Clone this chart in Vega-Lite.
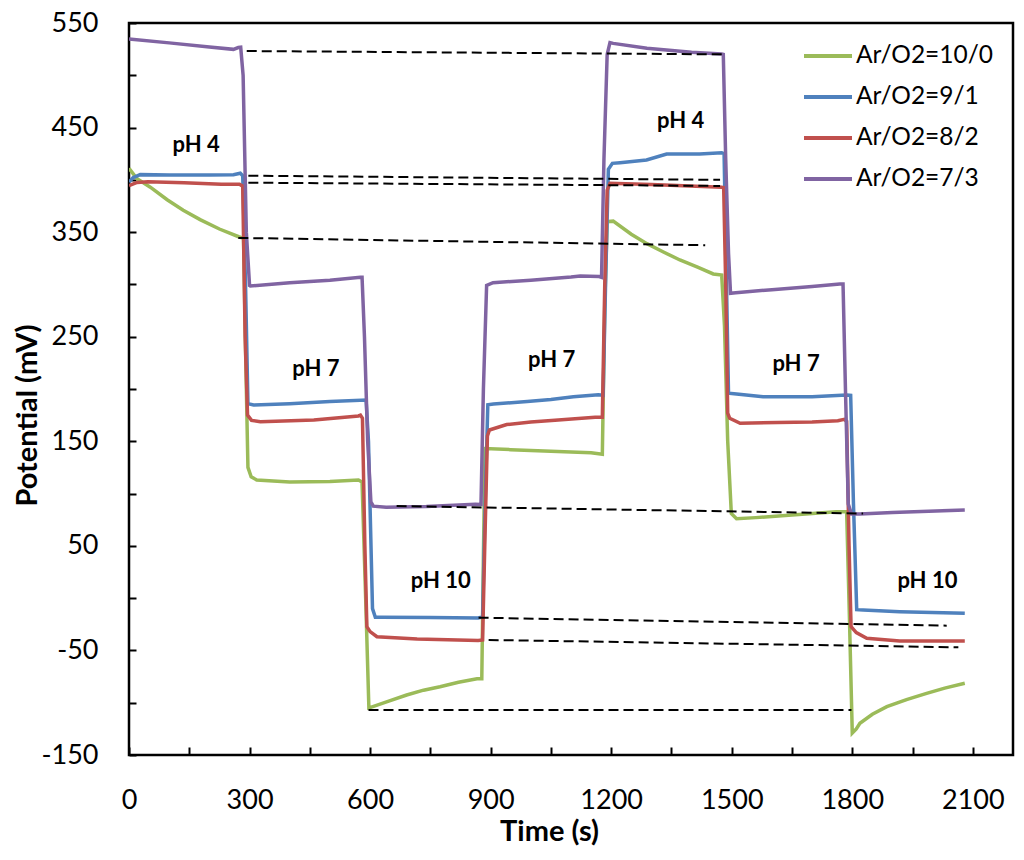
{
  "$schema": "https://vega.github.io/schema/vega-lite/v6.json",
  "width": 884,
  "height": 732,
  "autosize": {"type": "none"},
  "padding": {"left": 129, "top": 23, "right": 11, "bottom": 105},
  "background": "white",
  "config": {
    "view": {"stroke": "black", "strokeWidth": 2.5},
    "font": "Lato"
  },
  "datasets": {
    "curves": [
      {"s": "Ar/O2=10/0", "t": 0, "mV": 411}, {"s": "Ar/O2=10/0", "t": 20, "mV": 401}, {"s": "Ar/O2=10/0", "t": 53, "mV": 393},
      {"s": "Ar/O2=10/0", "t": 95, "mV": 381}, {"s": "Ar/O2=10/0", "t": 135, "mV": 371}, {"s": "Ar/O2=10/0", "t": 177, "mV": 362},
      {"s": "Ar/O2=10/0", "t": 225, "mV": 353}, {"s": "Ar/O2=10/0", "t": 273, "mV": 345.6}, {"s": "Ar/O2=10/0", "t": 285, "mV": 344},
      {"s": "Ar/O2=10/0", "t": 291, "mV": 220}, {"s": "Ar/O2=10/0", "t": 296, "mV": 125}, {"s": "Ar/O2=10/0", "t": 304, "mV": 116},
      {"s": "Ar/O2=10/0", "t": 318, "mV": 113}, {"s": "Ar/O2=10/0", "t": 400, "mV": 111}, {"s": "Ar/O2=10/0", "t": 500, "mV": 111.5},
      {"s": "Ar/O2=10/0", "t": 571, "mV": 113}, {"s": "Ar/O2=10/0", "t": 580, "mV": 111}, {"s": "Ar/O2=10/0", "t": 589, "mV": 0},
      {"s": "Ar/O2=10/0", "t": 597, "mV": -105}, {"s": "Ar/O2=10/0", "t": 605, "mV": -104}, {"s": "Ar/O2=10/0", "t": 650, "mV": -98},
      {"s": "Ar/O2=10/0", "t": 691, "mV": -92.6}, {"s": "Ar/O2=10/0", "t": 733, "mV": -88}, {"s": "Ar/O2=10/0", "t": 774, "mV": -84.7},
      {"s": "Ar/O2=10/0", "t": 820, "mV": -80.5}, {"s": "Ar/O2=10/0", "t": 866, "mV": -77}, {"s": "Ar/O2=10/0", "t": 878, "mV": -77},
      {"s": "Ar/O2=10/0", "t": 882, "mV": 40}, {"s": "Ar/O2=10/0", "t": 886, "mV": 143}, {"s": "Ar/O2=10/0", "t": 950, "mV": 142},
      {"s": "Ar/O2=10/0", "t": 1050, "mV": 140.5}, {"s": "Ar/O2=10/0", "t": 1150, "mV": 139}, {"s": "Ar/O2=10/0", "t": 1178, "mV": 137.5},
      {"s": "Ar/O2=10/0", "t": 1184, "mV": 280}, {"s": "Ar/O2=10/0", "t": 1190, "mV": 360}, {"s": "Ar/O2=10/0", "t": 1205, "mV": 360.5},
      {"s": "Ar/O2=10/0", "t": 1250, "mV": 348}, {"s": "Ar/O2=10/0", "t": 1289, "mV": 339}, {"s": "Ar/O2=10/0", "t": 1330, "mV": 331},
      {"s": "Ar/O2=10/0", "t": 1371, "mV": 323.4}, {"s": "Ar/O2=10/0", "t": 1415, "mV": 316.5}, {"s": "Ar/O2=10/0", "t": 1454, "mV": 310},
      {"s": "Ar/O2=10/0", "t": 1475, "mV": 309}, {"s": "Ar/O2=10/0", "t": 1482, "mV": 260}, {"s": "Ar/O2=10/0", "t": 1490, "mV": 150},
      {"s": "Ar/O2=10/0", "t": 1499, "mV": 81}, {"s": "Ar/O2=10/0", "t": 1512, "mV": 76}, {"s": "Ar/O2=10/0", "t": 1560, "mV": 77},
      {"s": "Ar/O2=10/0", "t": 1650, "mV": 79.5}, {"s": "Ar/O2=10/0", "t": 1760, "mV": 82.5}, {"s": "Ar/O2=10/0", "t": 1786, "mV": 82.7},
      {"s": "Ar/O2=10/0", "t": 1793, "mV": -20}, {"s": "Ar/O2=10/0", "t": 1800, "mV": -129}, {"s": "Ar/O2=10/0", "t": 1810, "mV": -125},
      {"s": "Ar/O2=10/0", "t": 1819, "mV": -119.7}, {"s": "Ar/O2=10/0", "t": 1850, "mV": -111}, {"s": "Ar/O2=10/0", "t": 1886, "mV": -103.8},
      {"s": "Ar/O2=10/0", "t": 1935, "mV": -97}, {"s": "Ar/O2=10/0", "t": 1985, "mV": -91}, {"s": "Ar/O2=10/0", "t": 2030, "mV": -86},
      {"s": "Ar/O2=10/0", "t": 2080, "mV": -81.4},

      {"s": "Ar/O2=9/1", "t": 0, "mV": 398}, {"s": "Ar/O2=9/1", "t": 10, "mV": 402}, {"s": "Ar/O2=9/1", "t": 28, "mV": 405},
      {"s": "Ar/O2=9/1", "t": 100, "mV": 404.6}, {"s": "Ar/O2=9/1", "t": 200, "mV": 404.6}, {"s": "Ar/O2=9/1", "t": 260, "mV": 405},
      {"s": "Ar/O2=9/1", "t": 277, "mV": 406.3}, {"s": "Ar/O2=9/1", "t": 283, "mV": 404}, {"s": "Ar/O2=9/1", "t": 290, "mV": 300},
      {"s": "Ar/O2=9/1", "t": 296, "mV": 186}, {"s": "Ar/O2=9/1", "t": 310, "mV": 184.7}, {"s": "Ar/O2=9/1", "t": 400, "mV": 186},
      {"s": "Ar/O2=9/1", "t": 500, "mV": 188}, {"s": "Ar/O2=9/1", "t": 590, "mV": 189.5}, {"s": "Ar/O2=9/1", "t": 596, "mV": 150},
      {"s": "Ar/O2=9/1", "t": 606, "mV": -10}, {"s": "Ar/O2=9/1", "t": 613, "mV": -18.3}, {"s": "Ar/O2=9/1", "t": 626, "mV": -18.3},
      {"s": "Ar/O2=9/1", "t": 750, "mV": -18.5}, {"s": "Ar/O2=9/1", "t": 869, "mV": -19}, {"s": "Ar/O2=9/1", "t": 880, "mV": -18},
      {"s": "Ar/O2=9/1", "t": 887, "mV": 100}, {"s": "Ar/O2=9/1", "t": 893, "mV": 185}, {"s": "Ar/O2=9/1", "t": 907, "mV": 185.7},
      {"s": "Ar/O2=9/1", "t": 991, "mV": 188}, {"s": "Ar/O2=9/1", "t": 1050, "mV": 190}, {"s": "Ar/O2=9/1", "t": 1106, "mV": 192.5},
      {"s": "Ar/O2=9/1", "t": 1168, "mV": 194.4}, {"s": "Ar/O2=9/1", "t": 1180, "mV": 194}, {"s": "Ar/O2=9/1", "t": 1186, "mV": 300},
      {"s": "Ar/O2=9/1", "t": 1193, "mV": 410}, {"s": "Ar/O2=9/1", "t": 1203, "mV": 415.8}, {"s": "Ar/O2=9/1", "t": 1222, "mV": 416.4},
      {"s": "Ar/O2=9/1", "t": 1288, "mV": 419}, {"s": "Ar/O2=9/1", "t": 1338, "mV": 424.7}, {"s": "Ar/O2=9/1", "t": 1420, "mV": 424.7},
      {"s": "Ar/O2=9/1", "t": 1475, "mV": 426}, {"s": "Ar/O2=9/1", "t": 1481, "mV": 425}, {"s": "Ar/O2=9/1", "t": 1487, "mV": 300},
      {"s": "Ar/O2=9/1", "t": 1492, "mV": 196}, {"s": "Ar/O2=9/1", "t": 1512, "mV": 195.2}, {"s": "Ar/O2=9/1", "t": 1578, "mV": 192.6},
      {"s": "Ar/O2=9/1", "t": 1700, "mV": 192.6}, {"s": "Ar/O2=9/1", "t": 1786, "mV": 194.3}, {"s": "Ar/O2=9/1", "t": 1796, "mV": 194},
      {"s": "Ar/O2=9/1", "t": 1803, "mV": 90}, {"s": "Ar/O2=9/1", "t": 1811, "mV": -11}, {"s": "Ar/O2=9/1", "t": 1827, "mV": -11.4},
      {"s": "Ar/O2=9/1", "t": 1918, "mV": -13}, {"s": "Ar/O2=9/1", "t": 2080, "mV": -14.5},

      {"s": "Ar/O2=8/2", "t": 0, "mV": 394.4}, {"s": "Ar/O2=8/2", "t": 20, "mV": 397.5}, {"s": "Ar/O2=8/2", "t": 47, "mV": 398.2},
      {"s": "Ar/O2=8/2", "t": 137, "mV": 397.3}, {"s": "Ar/O2=8/2", "t": 230, "mV": 395.8}, {"s": "Ar/O2=8/2", "t": 275, "mV": 395.8},
      {"s": "Ar/O2=8/2", "t": 283, "mV": 394}, {"s": "Ar/O2=8/2", "t": 289, "mV": 250}, {"s": "Ar/O2=8/2", "t": 295, "mV": 175},
      {"s": "Ar/O2=8/2", "t": 305, "mV": 170}, {"s": "Ar/O2=8/2", "t": 327, "mV": 168.7}, {"s": "Ar/O2=8/2", "t": 460, "mV": 170.4},
      {"s": "Ar/O2=8/2", "t": 571, "mV": 174.2}, {"s": "Ar/O2=8/2", "t": 576, "mV": 175}, {"s": "Ar/O2=8/2", "t": 581, "mV": 172},
      {"s": "Ar/O2=8/2", "t": 587, "mV": 50}, {"s": "Ar/O2=8/2", "t": 592, "mV": -27.3}, {"s": "Ar/O2=8/2", "t": 600, "mV": -32},
      {"s": "Ar/O2=8/2", "t": 617, "mV": -36.9}, {"s": "Ar/O2=8/2", "t": 717, "mV": -39}, {"s": "Ar/O2=8/2", "t": 869, "mV": -40.6},
      {"s": "Ar/O2=8/2", "t": 880, "mV": -40}, {"s": "Ar/O2=8/2", "t": 886, "mV": 60}, {"s": "Ar/O2=8/2", "t": 892, "mV": 155},
      {"s": "Ar/O2=8/2", "t": 897, "mV": 160.8}, {"s": "Ar/O2=8/2", "t": 940, "mV": 166}, {"s": "Ar/O2=8/2", "t": 1000, "mV": 168.5},
      {"s": "Ar/O2=8/2", "t": 1060, "mV": 170}, {"s": "Ar/O2=8/2", "t": 1160, "mV": 173}, {"s": "Ar/O2=8/2", "t": 1178, "mV": 173},
      {"s": "Ar/O2=8/2", "t": 1184, "mV": 300}, {"s": "Ar/O2=8/2", "t": 1190, "mV": 390}, {"s": "Ar/O2=8/2", "t": 1197, "mV": 396.7},
      {"s": "Ar/O2=8/2", "t": 1300, "mV": 395.5}, {"s": "Ar/O2=8/2", "t": 1475, "mV": 392.9}, {"s": "Ar/O2=8/2", "t": 1480, "mV": 392.5},
      {"s": "Ar/O2=8/2", "t": 1485, "mV": 300}, {"s": "Ar/O2=8/2", "t": 1490, "mV": 177}, {"s": "Ar/O2=8/2", "t": 1495, "mV": 172},
      {"s": "Ar/O2=8/2", "t": 1521, "mV": 167.2}, {"s": "Ar/O2=8/2", "t": 1614, "mV": 167.9}, {"s": "Ar/O2=8/2", "t": 1700, "mV": 168.5},
      {"s": "Ar/O2=8/2", "t": 1764, "mV": 169.7}, {"s": "Ar/O2=8/2", "t": 1780, "mV": 171}, {"s": "Ar/O2=8/2", "t": 1786, "mV": 169},
      {"s": "Ar/O2=8/2", "t": 1792, "mV": 50}, {"s": "Ar/O2=8/2", "t": 1797, "mV": -27.3}, {"s": "Ar/O2=8/2", "t": 1810, "mV": -33},
      {"s": "Ar/O2=8/2", "t": 1836, "mV": -38.4}, {"s": "Ar/O2=8/2", "t": 1918, "mV": -41}, {"s": "Ar/O2=8/2", "t": 2080, "mV": -41},

      {"s": "Ar/O2=7/3", "t": 0, "mV": 534.7}, {"s": "Ar/O2=7/3", "t": 100, "mV": 531}, {"s": "Ar/O2=7/3", "t": 200, "mV": 527},
      {"s": "Ar/O2=7/3", "t": 260, "mV": 524.8}, {"s": "Ar/O2=7/3", "t": 272, "mV": 526.5}, {"s": "Ar/O2=7/3", "t": 278, "mV": 526.8},
      {"s": "Ar/O2=7/3", "t": 284, "mV": 500}, {"s": "Ar/O2=7/3", "t": 292, "mV": 350}, {"s": "Ar/O2=7/3", "t": 300, "mV": 299},
      {"s": "Ar/O2=7/3", "t": 302, "mV": 298.5}, {"s": "Ar/O2=7/3", "t": 400, "mV": 301.5}, {"s": "Ar/O2=7/3", "t": 500, "mV": 304},
      {"s": "Ar/O2=7/3", "t": 576, "mV": 306.8}, {"s": "Ar/O2=7/3", "t": 580, "mV": 306.8}, {"s": "Ar/O2=7/3", "t": 586, "mV": 250},
      {"s": "Ar/O2=7/3", "t": 594, "mV": 150}, {"s": "Ar/O2=7/3", "t": 602, "mV": 92}, {"s": "Ar/O2=7/3", "t": 608, "mV": 88},
      {"s": "Ar/O2=7/3", "t": 640, "mV": 86.9}, {"s": "Ar/O2=7/3", "t": 740, "mV": 87.6}, {"s": "Ar/O2=7/3", "t": 862, "mV": 89.7},
      {"s": "Ar/O2=7/3", "t": 876, "mV": 89.5}, {"s": "Ar/O2=7/3", "t": 882, "mV": 200}, {"s": "Ar/O2=7/3", "t": 890, "mV": 299},
      {"s": "Ar/O2=7/3", "t": 906, "mV": 301.7}, {"s": "Ar/O2=7/3", "t": 1000, "mV": 304}, {"s": "Ar/O2=7/3", "t": 1100, "mV": 307},
      {"s": "Ar/O2=7/3", "t": 1123, "mV": 308}, {"s": "Ar/O2=7/3", "t": 1170, "mV": 307.5}, {"s": "Ar/O2=7/3", "t": 1176, "mV": 306.8},
      {"s": "Ar/O2=7/3", "t": 1182, "mV": 420}, {"s": "Ar/O2=7/3", "t": 1190, "mV": 520}, {"s": "Ar/O2=7/3", "t": 1197, "mV": 531.2},
      {"s": "Ar/O2=7/3", "t": 1205, "mV": 530.5}, {"s": "Ar/O2=7/3", "t": 1289, "mV": 525.8}, {"s": "Ar/O2=7/3", "t": 1400, "mV": 522},
      {"s": "Ar/O2=7/3", "t": 1475, "mV": 520.4}, {"s": "Ar/O2=7/3", "t": 1479, "mV": 520}, {"s": "Ar/O2=7/3", "t": 1485, "mV": 420},
      {"s": "Ar/O2=7/3", "t": 1492, "mV": 330}, {"s": "Ar/O2=7/3", "t": 1497, "mV": 291.5}, {"s": "Ar/O2=7/3", "t": 1510, "mV": 292},
      {"s": "Ar/O2=7/3", "t": 1600, "mV": 295}, {"s": "Ar/O2=7/3", "t": 1700, "mV": 298}, {"s": "Ar/O2=7/3", "t": 1769, "mV": 300.4},
      {"s": "Ar/O2=7/3", "t": 1777, "mV": 300.4}, {"s": "Ar/O2=7/3", "t": 1783, "mV": 200}, {"s": "Ar/O2=7/3", "t": 1790, "mV": 90},
      {"s": "Ar/O2=7/3", "t": 1798, "mV": 80.5}, {"s": "Ar/O2=7/3", "t": 1819, "mV": 80.5}, {"s": "Ar/O2=7/3", "t": 1900, "mV": 82},
      {"s": "Ar/O2=7/3", "t": 2080, "mV": 84.3}
    ],
    "dashes": [
      {"seg": "a", "t": 293, "mV": 523.2}, {"seg": "a", "t": 1479, "mV": 520},
      {"seg": "b", "t": 297, "mV": 404}, {"seg": "b", "t": 1471, "mV": 400},
      {"seg": "c", "t": 297, "mV": 397.3}, {"seg": "c", "t": 1471, "mV": 394.2},
      {"seg": "d", "t": 272, "mV": 344.5}, {"seg": "d", "t": 1434, "mV": 337.5},
      {"seg": "e", "t": 666, "mV": 88.1}, {"seg": "e", "t": 1827, "mV": 80.9},
      {"seg": "f", "t": 870, "mV": -18.7}, {"seg": "f", "t": 2035, "mV": -26.3},
      {"seg": "g", "t": 895, "mV": -40}, {"seg": "g", "t": 2064, "mV": -47},
      {"seg": "h", "t": 596, "mV": -107}, {"seg": "h", "t": 1798, "mV": -107}
    ],
    "labels": [
      {"t": 167, "mV": 426.9, "text": "pH 4"},
      {"t": 465, "mV": 212.4, "text": "pH 7"},
      {"t": 776, "mV": 9.4, "text": "pH 10"},
      {"t": 1052, "mV": 220.7, "text": "pH 7"},
      {"t": 1373, "mV": 449.3, "text": "pH 4"},
      {"t": 1660, "mV": 217.5, "text": "pH 7"},
      {"t": 1987, "mV": 10, "text": "pH 10"}
    ]
  },
  "encoding": {
    "x": {
      "field": "t",
      "type": "quantitative",
      "scale": {"domain": [0, 2200], "nice": false, "zero": false},
      "axis": {
        "title": "Time (s)",
        "values": [0, 150, 300, 450, 600, 750, 900, 1050, 1200, 1350, 1500, 1650, 1800, 1950, 2100],
        "labelExpr": "datum.value % 300 == 0 ? '' + datum.value : ''",
        "grid": false,
        "domain": false,
        "tickSize": -8,
        "tickWidth": 2,
        "tickColor": "black",
        "labelFont": "Lato",
        "labelFontSize": 27,
        "labelColor": "black",
        "labelPadding": 40,
        "labelFlush": false,
        "labelOverlap": false,
        "titleFont": "Lato",
        "titleFontSize": 29,
        "titleFontWeight": "bold",
        "titleColor": "black",
        "titleX": 420,
        "titleY": 85,
        "titleBaseline": "alphabetic"
      }
    },
    "y": {
      "field": "mV",
      "type": "quantitative",
      "scale": {"domain": [-150, 550], "nice": false, "zero": false},
      "axis": {
        "title": "Potential (mV)",
        "values": [-150, -100, -50, 0, 50, 100, 150, 200, 250, 300, 350, 400, 450, 500, 550],
        "labelExpr": "(datum.value + 150) % 100 == 0 ? '' + datum.value : ''",
        "grid": false,
        "domain": false,
        "tickSize": -7,
        "tickWidth": 2,
        "tickColor": "black",
        "labelFont": "Lato",
        "labelFontSize": 27,
        "labelColor": "black",
        "labelPadding": 38,
        "labelOverlap": false,
        "labelFlush": false,
        "titleFont": "Lato",
        "titleFontSize": 29,
        "titleFontWeight": "bold",
        "titleColor": "black",
        "titleAngle": 270,
        "titleAlign": "center",
        "titleBaseline": "alphabetic",
        "titleX": -93,
        "titleY": 392
      }
    }
  },
  "layer": [
    {
      "data": {"name": "curves"},
      "mark": {"type": "line", "strokeWidth": 3.5, "clip": true},
      "encoding": {
        "color": {
          "field": "s",
          "type": "nominal",
          "scale": {
            "domain": ["Ar/O2=10/0", "Ar/O2=9/1", "Ar/O2=8/2", "Ar/O2=7/3"],
            "range": ["#9BBB59", "#4F81BD", "#C0504D", "#8064A2"]
          },
          "legend": {
            "title": null,
            "orient": "none",
            "legendX": 685,
            "legendY": 19,
            "padding": 0,
            "symbolType": "M-2,0H2",
            "symbolSize": 576,
            "symbolStrokeWidth": 4,
            "labelFont": "Lato",
            "labelFontSize": 24.5,
            "labelColor": "black",
            "labelOffset": 14,
            "rowPadding": 15
          }
        }
      }
    },
    {
      "data": {"name": "dashes"},
      "mark": {"type": "line", "color": "black", "strokeWidth": 2, "strokeDash": [10, 5]},
      "encoding": {"detail": {"field": "seg"}}
    },
    {
      "data": {"name": "labels"},
      "mark": {"type": "text", "font": "Lato", "fontSize": 22, "fontWeight": "bold", "color": "black", "align": "center", "baseline": "alphabetic"},
      "encoding": {"text": {"field": "text"}}
    }
  ]
}
